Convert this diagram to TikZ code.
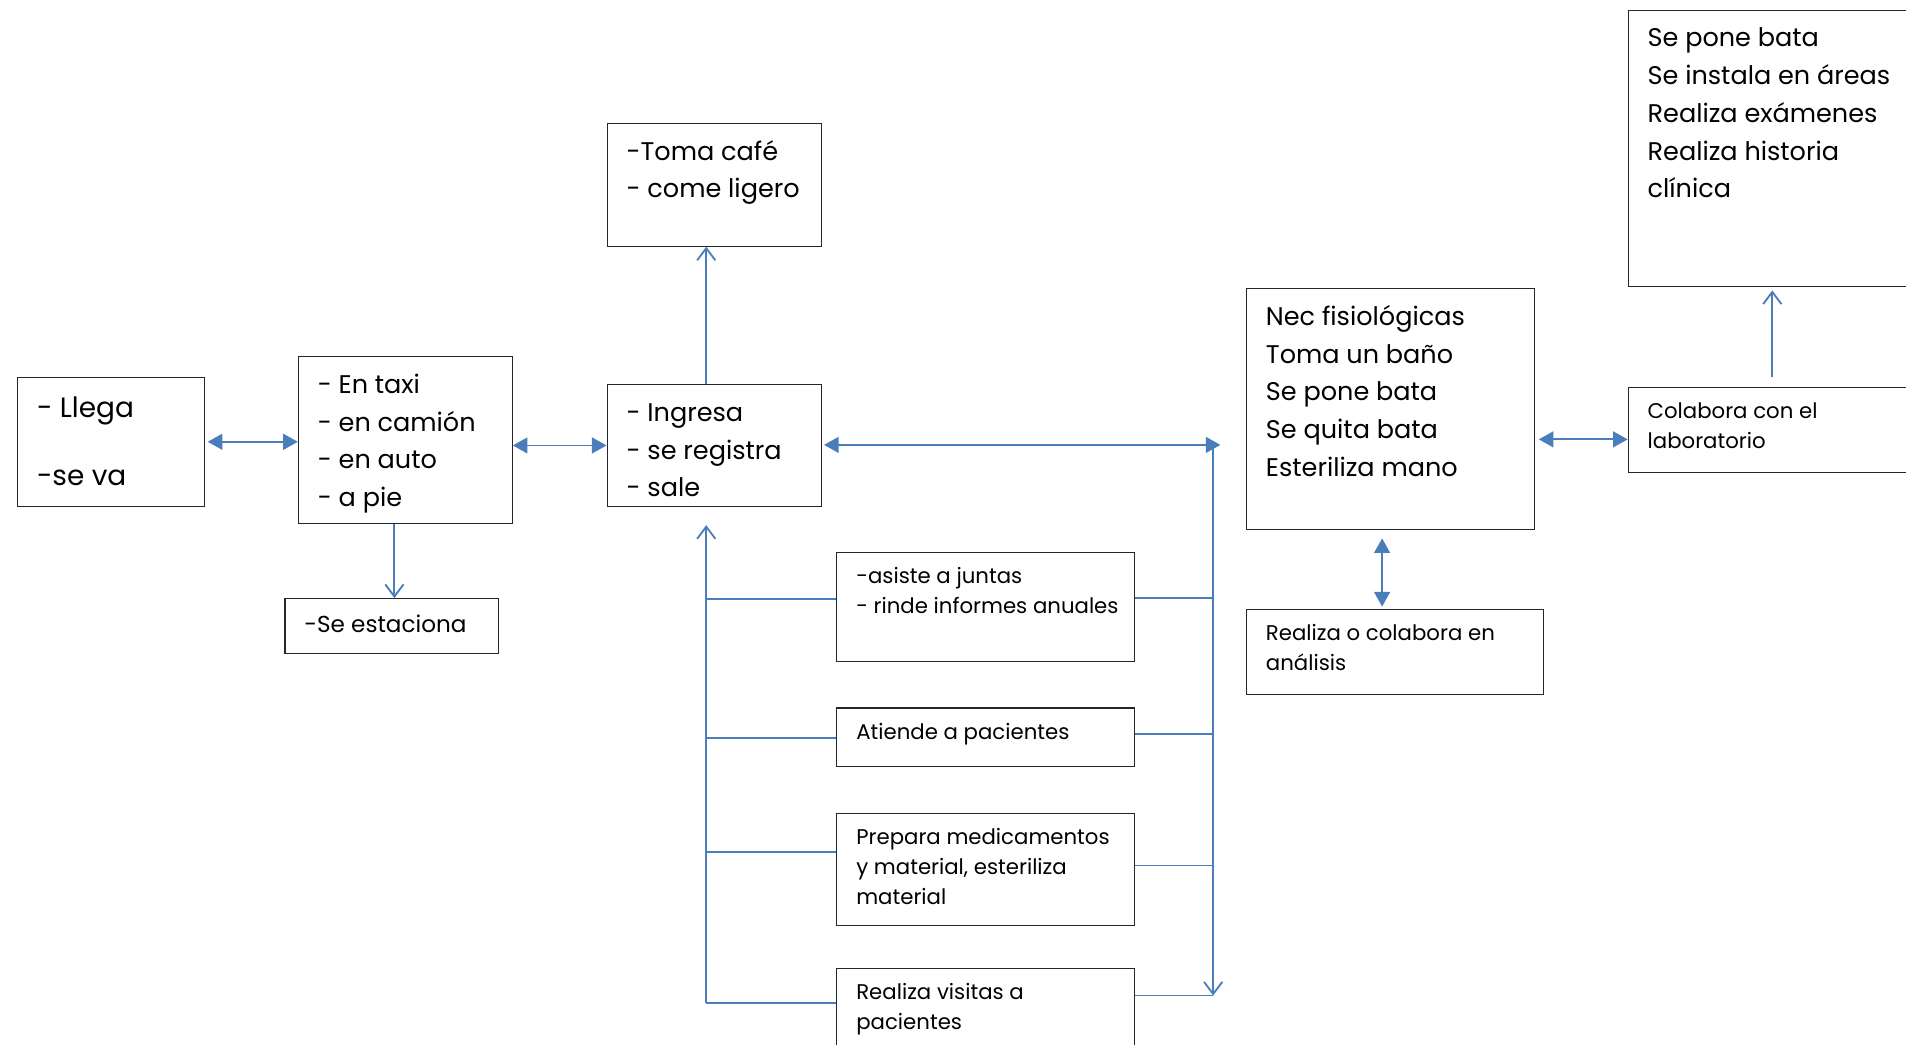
\documentclass[tikz,border=0pt]{standalone}
\usepackage{fontspec}
\setmainfont{Poppins}
\usetikzlibrary{arrows.meta}

\definecolor{linkblue}{HTML}{4A7EBB}
\definecolor{framegray}{HTML}{262626}

\newcommand{\hugetxt}{\fontsize{23}{28}\selectfont}
\newcommand{\bigtxt}{\fontsize{21}{31}\selectfont}
\newcommand{\midtxt}{\fontsize{19}{28}\selectfont}
\newcommand{\smalltxt}{\fontsize{17.5}{24.5}\selectfont}
% box of fixed size, text set flush left from the top
\newcommand{\cellbox}[4][8.5pt]{\parbox[c][#3][t]{#2}{\raggedright\leftskip=16pt\relax\vspace*{#1}\strut #4}}

\begin{document}
\begin{tikzpicture}[x=1pt,y=-1pt,
  panel/.style={draw=framegray, line width=0.9pt, inner sep=0pt, anchor=north west, font=\bigtxt},
  smallfont/.style={font=\smalltxt},
  link/.style={draw=linkblue, line width=1.5pt},
  twoway/.style={link, {Triangle[length=12pt,width=13pt]}-{Triangle[length=12pt,width=13pt]}},
  oneway/.style={link, -{Straight Barb[length=10pt,width=15pt]}},
]
\useasboundingbox (0,0) rectangle (1568,859);
\clip (0,0) rectangle (1568,859);

% left chain
\node[panel, font=\hugetxt] (llega) at (14,310) {\cellbox[13pt]{154pt}{106pt}{- Llega\\[28pt]-se va}};
\node[panel] (taxi) at (245,293) {\cellbox{176pt}{137pt}{- En taxi\\- en camión\\- en auto\\- a pie}};
\node[panel, font=\midtxt] (estaciona) at (234,492) {\cellbox[8pt]{176pt}{45pt}{-Se estaciona}};
\node[panel] (ingresa) at (499,316) {\cellbox{176pt}{100pt}{- Ingresa\\- se registra\\- sale}};
\node[panel] (cafe) at (499,101) {\cellbox{176pt}{101pt}{-Toma café\\- come ligero}};

% activities between the two buses
\node[panel, smallfont] (asiste) at (688,454) {\cellbox{245pt}{90pt}{-asiste a juntas\\- rinde informes anuales}};
\node[panel, smallfont] (atiende) at (688,582) {\cellbox{245pt}{48pt}{Atiende a pacientes}};
\node[panel, smallfont] (prepara) at (688,669) {\cellbox{245pt}{92pt}{Prepara medicamentos\\y material, esteriliza\\material}};
\node[panel, smallfont] (visitas) at (688,796) {\cellbox{245pt}{80pt}{Realiza visitas a\\pacientes}};

% right side
\node[panel] (nec) at (1025,237) {\cellbox{237pt}{198pt}{Nec fisiológicas\\Toma un baño\\Se pone bata\\Se quita bata\\Esteriliza mano}};
\node[panel, smallfont] (analisis) at (1025,501) {\cellbox{244pt}{70pt}{Realiza o colabora en\\análisis}};
\node[panel, smallfont] (colabora) at (1339,318) {\cellbox{260pt}{70pt}{Colabora con el\\laboratorio}};
\node[panel] (bata) at (1339,8) {\cellbox{260pt}{227pt}{Se pone bata\\Se instala en áreas\\Realiza exámenes\\Realiza historia\\clínica}};

% bus and branch points
\coordinate (ltop) at (581,432);
\coordinate (lbot) at (581,825);
\coordinate (l1) at (581,493);
\coordinate (l2) at (581,607);
\coordinate (l3) at (581,701);
\coordinate (rtop) at (998,366);
\coordinate (rtip) at (1004,366);
\coordinate (rbot) at (998,819);
\coordinate (r1) at (998,492);
\coordinate (r2) at (998,604);
\coordinate (r3) at (998,712);
\coordinate (nc) at ([yshift=-8pt]colabora.west);
\coordinate (na) at (1137,0);
\coordinate (cb) at (1458,0);

% connectors on the left
\draw[twoway, shorten <=2pt] (llega.east) -- (llega.east -| taxi.west);
\draw[twoway] (ingresa.west -| taxi.east) -- (ingresa.west);
\draw[oneway] ([xshift=2pt]estaciona.north |- taxi.south) -- ([xshift=2pt]estaciona.north);
\draw[oneway] (ingresa.north -| ltop) -- (cafe.south -| ltop);

% left bus
\draw[oneway] (lbot) -- (ltop);
\draw[link] (l1) -- (l1 -| asiste.west);
\draw[link] (l2) -- (l2 -| atiende.west);
\draw[link] (l3) -- (l3 -| prepara.west);
\draw[link] (lbot) -- (lbot -| visitas.west);

% right bus
\draw[twoway, shorten <=2pt] (ingresa.east |- rtip) -- (rtip);
\draw[oneway] (rtop) -- (rbot);
\draw[link] (asiste.east |- r1) -- (r1);
\draw[link] (atiende.east |- r2) -- (r2);
\draw[link] (prepara.east |- r3) -- (r3);
\draw[link] (visitas.east |- rbot) -- (rbot);

% connectors on the right
\draw[twoway, shorten <=3pt] (nc -| nec.east) -- (nc);
\draw[twoway, shorten <=7pt, shorten >=2pt] (nec.south -| na) -- (analisis.north -| na);
\draw[oneway, shorten <=8pt, shorten >=3pt] (colabora.north -| cb) -- (bata.south -| cb);
\end{tikzpicture}
\end{document}
